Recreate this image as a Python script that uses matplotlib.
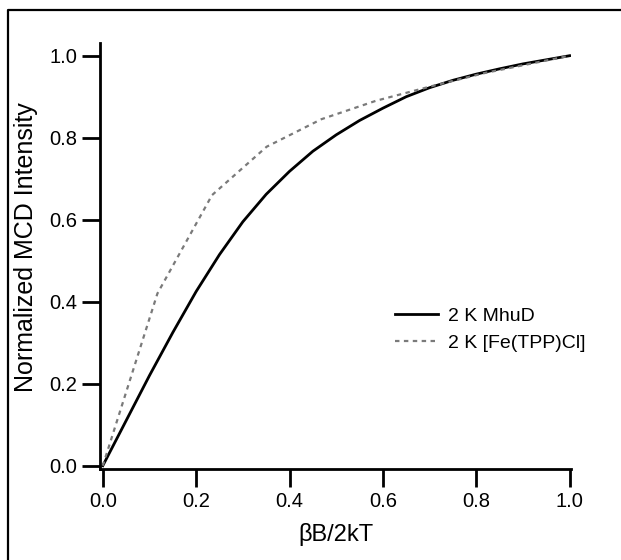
import matplotlib
matplotlib.use("Agg")
import matplotlib.pyplot as plt
from matplotlib.lines import Line2D

plt.rcParams['font.family'] = ['Liberation Sans', 'DejaVu Sans']

# 2 K MhuD saturation curve
mhud_x = [0.0, 0.05, 0.1, 0.15, 0.2, 0.25, 0.3, 0.35, 0.4, 0.45, 0.5,
          0.55, 0.6, 0.65, 0.7, 0.75, 0.8, 0.85, 0.9, 0.95, 1.0]
mhud_y = [0.0, 0.11, 0.22, 0.325, 0.425, 0.515, 0.595, 0.662, 0.718, 0.767, 0.807,
          0.842, 0.872, 0.90, 0.922, 0.94, 0.955, 0.968, 0.98, 0.99, 1.0]

# 2 K [Fe(TPP)Cl] reference
fetpp_x = [0.0, 0.117, 0.234, 0.351, 0.468, 0.585, 0.702, 0.819, 0.936, 1.0]
fetpp_y = [0.0, 0.42, 0.66, 0.778, 0.845, 0.89, 0.925, 0.958, 0.985, 1.0]

xticks = [0.0, 0.2, 0.4, 0.6, 0.8, 1.0]
yticks = [0.0, 0.2, 0.4, 0.6, 0.8, 1.0]

W, H = 621, 560
fig = plt.figure(figsize=(W / 100, H / 100), dpi=100)
ax = fig.add_axes([100 / W, 1 - 469 / H, (571 - 100) / W, (469 - 43) / H])

ax.plot(mhud_x, mhud_y, color='black', lw=2.0, label='2 K MhuD')
ax.plot(fetpp_x, fetpp_y, color='#7a7a7a', lw=1.6, dashes=(2, 2),
        label='2 K [Fe(TPP)Cl]')

ax.set_xlim(-0.006, 1.003)
ax.set_ylim(-0.008, 1.031)
ax.set_xticks(xticks)
ax.set_yticks(yticks)
ax.set_xticklabels(['%.1f' % t for t in xticks])
ax.set_yticklabels(['%.1f' % t for t in yticks])

for side in ['top', 'right']:
    ax.spines[side].set_visible(False)
for side in ['left', 'bottom']:
    ax.spines[side].set_linewidth(2.0)
ax.tick_params(axis='both', direction='out', length=13, width=2.0,
               labelsize=14.5, pad=3.5)

ax.set_xlabel('βB/2kT', fontsize=17, labelpad=9)
ax.set_ylabel('Normalized MCD Intensity', fontsize=18)
ax.yaxis.set_label_coords(-0.132, 0.52)

leg = ax.legend(loc='upper left', bbox_to_anchor=(395 / W, 1 - 307 / H),
                bbox_transform=fig.transFigure, frameon=False, fontsize=14,
                handlelength=2.2, handletextpad=0.5, borderpad=0,
                borderaxespad=0, labelspacing=0.5)

# partial frame around the figure (top and left edges only)
fig.add_artist(Line2D([8 / W, 8 / W, 1.0], [0.0, 1 - 10 / H, 1 - 10 / H],
                      transform=fig.transFigure, color='black', lw=1.6))

fig.savefig('out.png', dpi=100)
